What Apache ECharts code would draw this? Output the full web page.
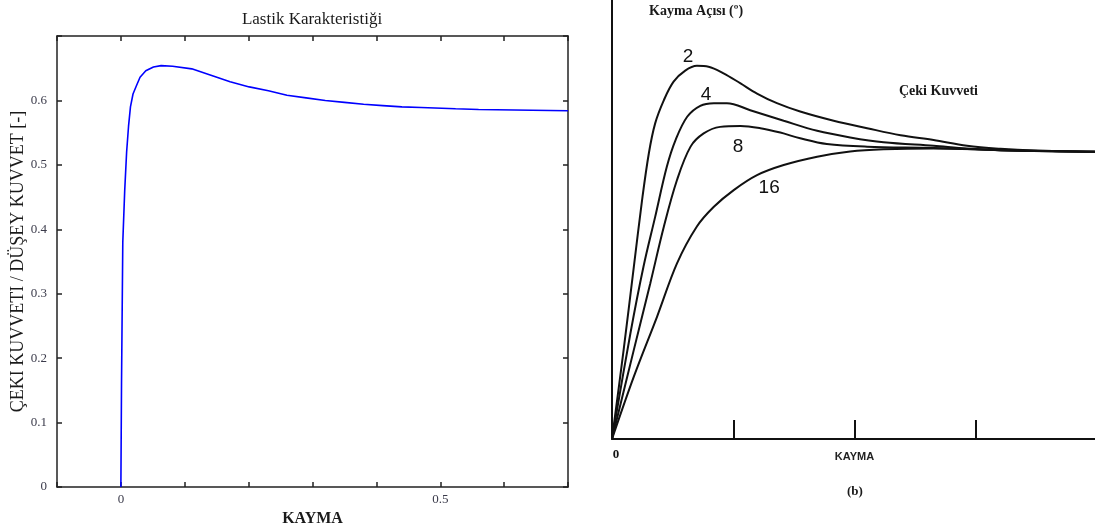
<!DOCTYPE html>
<html>
<head>
<meta charset="utf-8">
<script src="https://cdn.jsdelivr.net/npm/echarts@6/dist/echarts.min.js"></script>
<style>html,body{margin:0;padding:0;background:#fff}#c{width:1095px;height:525px}</style>
</head>
<body>
<div id="c"></div>
<script>
// Left panel: tyre characteristic (slip vs traction/vertical force)
const leftSlip = [0, 0.001, 0.003, 0.006, 0.009, 0.012, 0.015, 0.019, 0.024, 0.030, 0.039, 0.051, 0.063, 0.081, 0.111, 0.141, 0.171, 0.201, 0.231, 0.260, 0.290, 0.320, 0.350, 0.380, 0.410, 0.440, 0.470, 0.524, 0.560, 0.700];
const leftForce = [0, 0.16, 0.38, 0.46, 0.52, 0.56, 0.59, 0.61, 0.622, 0.636, 0.646, 0.652, 0.654, 0.653, 0.649, 0.639, 0.629, 0.621, 0.615, 0.608, 0.604, 0.600, 0.597, 0.594, 0.592, 0.590, 0.589, 0.587, 0.586, 0.584, 0.584];

// Right panel: traction force curves for slip angles 2,4,8,16 degrees
const angleNames = ['2', '4', '8', '16'];
const slip2 = [0, 0.024, 0.045, 0.062, 0.076, 0.089, 0.107, 0.127, 0.151, 0.175, 0.199, 0.230, 0.265, 0.299, 0.340, 0.388, 0.457, 0.526, 0.595, 0.663, 0.732, 0.801, 0.869, 1.0];
const force2 = [0, 0.203, 0.392, 0.544, 0.651, 0.719, 0.772, 0.814, 0.839, 0.850, 0.848, 0.833, 0.810, 0.787, 0.765, 0.746, 0.725, 0.708, 0.692, 0.681, 0.668, 0.661, 0.657, 0.654];
const slip4 = [0, 0.038, 0.065, 0.089, 0.113, 0.131, 0.155, 0.182, 0.210, 0.237, 0.285, 0.354, 0.423, 0.491, 0.560, 0.663, 0.732, 0.801, 0.869, 1.0];
const force4 = [0, 0.241, 0.393, 0.506, 0.620, 0.681, 0.734, 0.759, 0.765, 0.765, 0.749, 0.725, 0.702, 0.687, 0.676, 0.668, 0.662, 0.658, 0.656, 0.654];
const slip8 = [0, 0.045, 0.079, 0.107, 0.134, 0.162, 0.189, 0.223, 0.265, 0.306, 0.347, 0.388, 0.443, 0.526, 0.663, 0.801, 1.0];
const force8 = [0, 0.203, 0.355, 0.484, 0.590, 0.666, 0.696, 0.711, 0.713, 0.708, 0.698, 0.685, 0.672, 0.666, 0.663, 0.658, 0.654];
const slip16 = [0, 0.045, 0.093, 0.134, 0.175, 0.210, 0.251, 0.299, 0.354, 0.423, 0.491, 0.560, 0.663, 0.801, 1.0];
const force16 = [0, 0.142, 0.279, 0.400, 0.484, 0.529, 0.567, 0.601, 0.624, 0.643, 0.655, 0.660, 0.662, 0.658, 0.654];
// curve label anchor points (data units)
const labelSlip = [0.157, 0.194, 0.260, 0.324];
const labelForce = [0.870, 0.784, 0.665, 0.572];

const zip = (a, b) => a.map((v, i) => [v, b[i]]);
const near = (v, t) => Math.abs(v - t) < 1e-6;

const serif = '"Liberation Serif", "DejaVu Serif", serif';
const sans = '"Liberation Sans", Arial, sans-serif';
const boxLine = { show: true, onZero: false, lineStyle: { color: '#222', width: 1.5 } };
const inTick = { show: true, inside: true, length: 5, lineStyle: { color: '#222', width: 1.5 } };

const rightSlips = [slip2, slip4, slip8, slip16];
const rightForces = [force2, force4, force8, force16];

const rightSeries = angleNames.map((n, i) => ({
  type: 'line', name: n, xAxisIndex: 2, yAxisIndex: 2,
  data: zip(rightSlips[i], rightForces[i]),
  smooth: 0.35, showSymbol: false, symbol: 'none',
  lineStyle: { color: '#111', width: 2 },
  markPoint: {
    symbol: 'circle', symbolSize: 1,
    itemStyle: { color: 'rgba(0,0,0,0)' },
    label: { show: true, formatter: n, color: '#111', fontFamily: sans, fontSize: 19, position: 'inside' },
    data: [{ coord: [labelSlip[i], labelForce[i]] }]
  },
  z: 3
}));

const chart = echarts.init(document.getElementById('c'));
chart.setOption({
  animation: false,
  backgroundColor: '#fff',
  title: {
    text: 'Lastik Karakteristiği', left: 307, top: 6, textAlign: 'center',
    textStyle: { fontFamily: serif, fontSize: 17, fontWeight: 'normal', color: '#1a1a1a' }
  },
  grid: [
    { left: 57, top: 36, width: 511, height: 451, outerBoundsMode: 'none' },
    { left: 612, top: 0, width: 485, height: 439, outerBoundsMode: 'none' }
  ],
  xAxis: [
    {
      type: 'value', gridIndex: 0, min: -0.1, max: 0.7, interval: 0.1, position: 'bottom',
      name: 'KAYMA', nameLocation: 'middle', nameGap: 19,
      nameTextStyle: { fontFamily: serif, fontSize: 16, fontWeight: 'bold', color: '#1a1a1a' },
      axisLine: boxLine, axisTick: inTick, splitLine: { show: false },
      axisLabel: {
        margin: 6, fontFamily: serif, fontSize: 13, color: '#3a3a4a',
        formatter: v => near(v, 0) ? '0' : (near(v, 0.5) ? '0.5' : '')
      }
    },
    {
      type: 'value', gridIndex: 0, min: -0.1, max: 0.7, interval: 0.1, position: 'top',
      axisLine: boxLine, axisTick: inTick, axisLabel: { show: false }, splitLine: { show: false }
    },
    {
      type: 'value', gridIndex: 1, min: 0, max: 1, interval: 0.25,
      axisLine: { show: true, onZero: false, lineStyle: { color: '#111', width: 2 } },
      axisTick: { show: true, inside: true, length: 19, lineStyle: { color: '#111', width: 2 } },
      splitLine: { show: false },
      axisLabel: {
        margin: 9,
        formatter: v => near(v, 0) ? '{a|0}' : (near(v, 0.5) ? '{b|KAYMA}' : (near(v, 1) ? '{a|1}' : '')),
        rich: {
          a: { fontFamily: serif, fontSize: 13, fontWeight: 'bold', color: '#111', padding: [0, 0, 0, 8] },
          b: { fontFamily: sans, fontSize: 11, fontWeight: 'bold', color: '#222', padding: [3, 0, 0, 0] }
        }
      }
    }
  ],
  yAxis: [
    {
      type: 'value', gridIndex: 0, min: 0, max: 0.7, interval: 0.1, position: 'left',
      name: 'ÇEKI KUVVETI / DÜŞEY KUVVET [-]', nameLocation: 'middle', nameGap: 30,
      nameTextStyle: { fontFamily: serif, fontSize: 18, color: '#1a1a1a' },
      axisLine: boxLine, axisTick: inTick, splitLine: { show: false },
      axisLabel: {
        margin: 10, fontFamily: serif, fontSize: 13, color: '#3a3a4a',
        formatter: v => near(v, 0.7) ? '' : (near(v, 0) ? '0' : v.toFixed(1))
      }
    },
    {
      type: 'value', gridIndex: 0, min: 0, max: 0.7, interval: 0.1, position: 'right',
      axisLine: boxLine, axisTick: inTick, axisLabel: { show: false }, splitLine: { show: false }
    },
    {
      type: 'value', gridIndex: 1, min: 0, max: 1,
      axisLine: { show: true, onZero: false, lineStyle: { color: '#111', width: 2 } },
      axisTick: { show: false }, axisLabel: { show: false }, splitLine: { show: false }
    }
  ],
  graphic: [
    { type: 'text', left: 649, top: 4, style: { text: 'Kayma Açısı (º)', fontFamily: serif, fontSize: 14, fontWeight: 'bold', fill: '#1a1a1a' } },
    { type: 'text', left: 899, top: 84, style: { text: 'Çeki Kuvveti', fontFamily: serif, fontSize: 14, fontWeight: 'bold', fill: '#1a1a1a' } },
    { type: 'text', left: 847, top: 485, style: { text: '(b)', fontFamily: serif, fontSize: 13, fontWeight: 'bold', fill: '#1a1a1a' } }
  ],
  series: [
    {
      type: 'line', xAxisIndex: 0, yAxisIndex: 0,
      data: zip(leftSlip, leftForce),
      showSymbol: false, symbol: 'none', smooth: false,
      lineStyle: { color: '#0000ff', width: 1.6 }
    }
  ].concat(rightSeries)
});
</script>
</body>
</html>
